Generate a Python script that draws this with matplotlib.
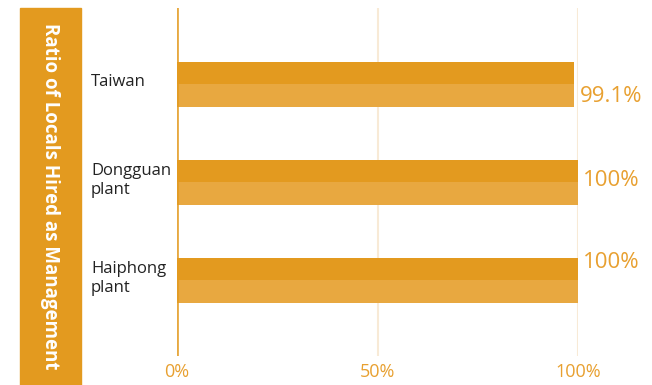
import matplotlib
matplotlib.use("Agg")
import matplotlib.pyplot as plt
from matplotlib.patches import Rectangle
import matplotlib.transforms as mtransforms

categories = ["Taiwan", "Dongguan\nplant", "Haiphong\nplant"]
values = [99.1, 100, 100]
value_labels = ["99.1%", "100%", "100%"]
xticks = [0, 50, 100]
xtick_labels = ["0%", "50%", "100%"]
title = "Ratio of Locals Hired as Management"

DARK = "#E39A1F"
LIGHT = "#E8A840"
TEXT_OR = "#E8A030"
GRID = "#F8EAD6"

plt.rcParams['font.family'] = ['Open Sans', 'DejaVu Sans']

W, H = 652, 385
fig = plt.figure(figsize=(W/100, H/100), dpi=100)
ax = fig.add_axes([177/W, 1 - 356/H, 401/W, (356-8)/H])
ax.set_xlim(0, 100)
ax.set_ylim(2.77, -0.776)

half = 0.23
for i, v in enumerate(values):
    ax.barh(i - half/2, v, height=half, color=DARK, linewidth=0, zorder=3)
    ax.barh(i + half/2, v, height=half, color=LIGHT, linewidth=0, zorder=3)

for x in xticks:
    if x == 0:
        ax.axvline(x, color="#E39A1F", lw=2, zorder=4, alpha=0.85)
    else:
        ax.axvline(x, color=GRID, lw=1.5, zorder=1)

ax.set_xticks(xticks)
ax.set_xticklabels(xtick_labels, color=TEXT_OR, fontsize=13)
ax.tick_params(axis='x', length=0, pad=5)
ax.set_yticks([])
for s in ax.spines.values():
    s.set_visible(False)

# value labels
offsets = [0.13, -0.02, -0.18]
for i, (v, lab) in enumerate(zip(values, value_labels)):
    ax.text(v + 1.3, i + offsets[i], lab, color=TEXT_OR, fontsize=16, va='center', ha='left')

# category labels
trans = mtransforms.blended_transform_factory(fig.transFigure, ax.transData)
cat_off = [-0.02, -0.02, -0.02]
for i, c in enumerate(categories):
    ax.text(91/W, i + cat_off[i], c, transform=trans, fontsize=12, color="#222222",
            va='center', ha='left', linespacing=1.25)

# left box
fig.patches.append(Rectangle((20/W, 0), 61/W, 1 - 8/H, transform=fig.transFigure,
                             color=DARK, zorder=0))
fig.text(50/W, 1 - 196/H, title, rotation=-90, color="white", fontsize=13.5,
         fontweight='bold', ha='center', va='center')

fig.savefig("out.png", dpi=100)
